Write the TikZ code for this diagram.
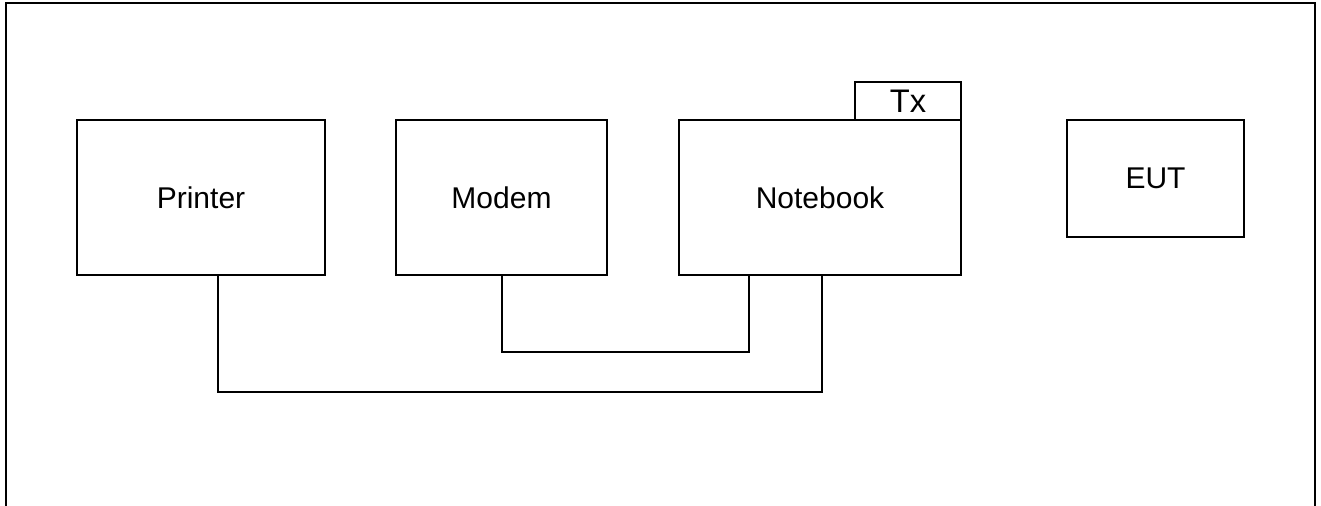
\documentclass[tikz,border=0pt]{standalone}
\usepackage{fontspec}
\setmainfont{Liberation Sans}
\usetikzlibrary{fit}
\begin{document}
\begin{tikzpicture}[x=0.75pt,y=-0.75pt,
  frame/.style={line width=1.5pt,black},
  unit/.style={draw,line width=1.5pt,inner sep=0pt},
  tag/.style={font=\fontsize{22.5}{26}\selectfont},
  bigtag/.style={font=\fontsize{24.5}{28}\selectfont},
  wire/.style={line width=1.5pt}]
\useasboundingbox (0,0) rectangle (1321,506);
% open outer frame
\draw[frame] (6,506) -- (6,3) -- (1315,3) -- (1315,506);
% units
\node[unit,fit={(77,120) (325,275)}] (printer) {};
\node[unit,fit={(396,120) (607,275)}] (modem) {};
\node[unit,fit={(679,120) (961,275)}] (notebook) {};
\node[unit,fit={(855,82) (961,120)}] (tx) {};
\node[unit,fit={(1067,120) (1244,237)}] (eut) {};
\node[tag] (printerlbl) at (printer.center) {Printer};
\node[tag] (modemlbl) at (modem.center) {Modem};
\node[tag] (notebooklbl) at (notebook.center) {Notebook};
\node[bigtag] (txlbl) at (tx.center) {Tx};
\node[tag] (eutlbl) at (eut.center) {EUT};
% cable taps
\coordinate (m1) at (502,275);
\coordinate (n1) at (749,275);
\coordinate (p1) at (218,275);
\coordinate (n2) at (822,275);
\draw[wire] (modem.south -| m1) -- ([yshift=-77*0.75pt]m1) -| (notebook.south -| n1);
\draw[wire] (printer.south -| p1) -- ([yshift=-117*0.75pt]p1) -| (notebook.south -| n2);
\end{tikzpicture}
\end{document}
